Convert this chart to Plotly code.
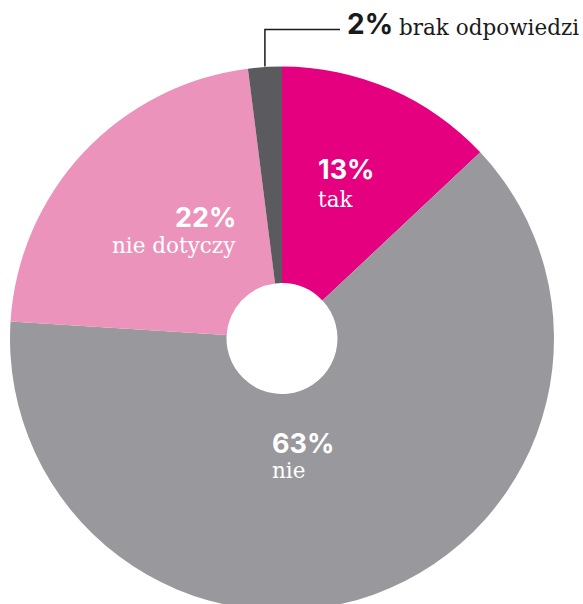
import math
import plotly.graph_objects as go

# Survey answers, clockwise from 12 o'clock
labels = ["tak", "nie", "nie dotyczy", "brak odpowiedzi"]
values = [13, 63, 22, 2]
colors = ["#E4007F", "#99989C", "#EC93BB", "#5B5A5F"]

W, H = 583, 620           # canvas is a little taller than the window, bottom edge is cropped
CX, CY, R = 282, 338.5, 272
HOLE = 0.204

PCT_FONT = dict(family="Inter", size=27, color="white")
NAME_FONT = dict(family="DejaVu Serif", size=21.5, color="white")


def px(x):
    return x / W


def py(y):
    return 1 - y / H


fig = go.Figure(
    go.Pie(
        labels=labels,
        values=values,
        marker=dict(colors=colors, line=dict(width=0)),
        hole=HOLE,
        sort=False,
        direction="clockwise",
        rotation=0,
        textinfo="none",
        hoverinfo="label+percent",
        showlegend=False,
        domain=dict(x=[px(CX - R), px(CX + R)], y=[py(CY + R), py(CY - R)]),
    )
)

# label placement: (anchor x, y of percentage, y of name, x-anchor)
placement = {
    "tak": (316, 169, 199, "left"),
    "nie": (270, 443, 470, "left"),
    "nie dotyczy": (238, 218, 246, "right"),
}

annotations = []
for lab, val in zip(labels, values):
    if lab not in placement:
        continue
    x, yp, yn, anchor = placement[lab]
    annotations.append(dict(x=px(x), y=py(yp), text=f"<b>{val}%</b>", font=PCT_FONT,
                            xanchor=anchor, yanchor="middle"))
    annotations.append(dict(x=px(x), y=py(yn), text=lab, font=NAME_FONT,
                            xanchor=anchor, yanchor="middle"))

# callout for the thin slice
total = sum(values)
mid_frac = (sum(values[:3]) + values[3] / 2) / total
ang = 2 * math.pi * mid_frac
lx = CX + R * math.sin(ang)
ly_top = 29.5
annotations.append(dict(x=px(345), y=py(24), text=f"<b>{values[3]}%</b>",
                        font=dict(family="Inter", size=28, color="#1a1a1a"),
                        xanchor="left", yanchor="middle"))
annotations.append(dict(x=px(397), y=py(27), text=labels[3],
                        font=dict(family="DejaVu Serif", size=21.5, color="#1a1a1a"),
                        xanchor="left", yanchor="middle"))

shapes = [dict(type="path", xref="paper", yref="paper",
               path=f"M {px(lx)} {py(CY - R)} L {px(lx)} {py(ly_top)} L {px(340)} {py(ly_top)}",
               line=dict(color="#1a1a1a", width=1.5))]

for a in annotations:
    a.update(xref="paper", yref="paper", showarrow=False)

fig.update_layout(
    width=W,
    height=H,
    margin=dict(l=0, r=0, t=0, b=0),
    paper_bgcolor="white",
    plot_bgcolor="white",
    annotations=annotations,
    shapes=shapes,
)

fig.write_html(
    "out.html",
    post_script="document.documentElement.style.overflow='hidden';document.body.style.overflow='hidden';",
)
